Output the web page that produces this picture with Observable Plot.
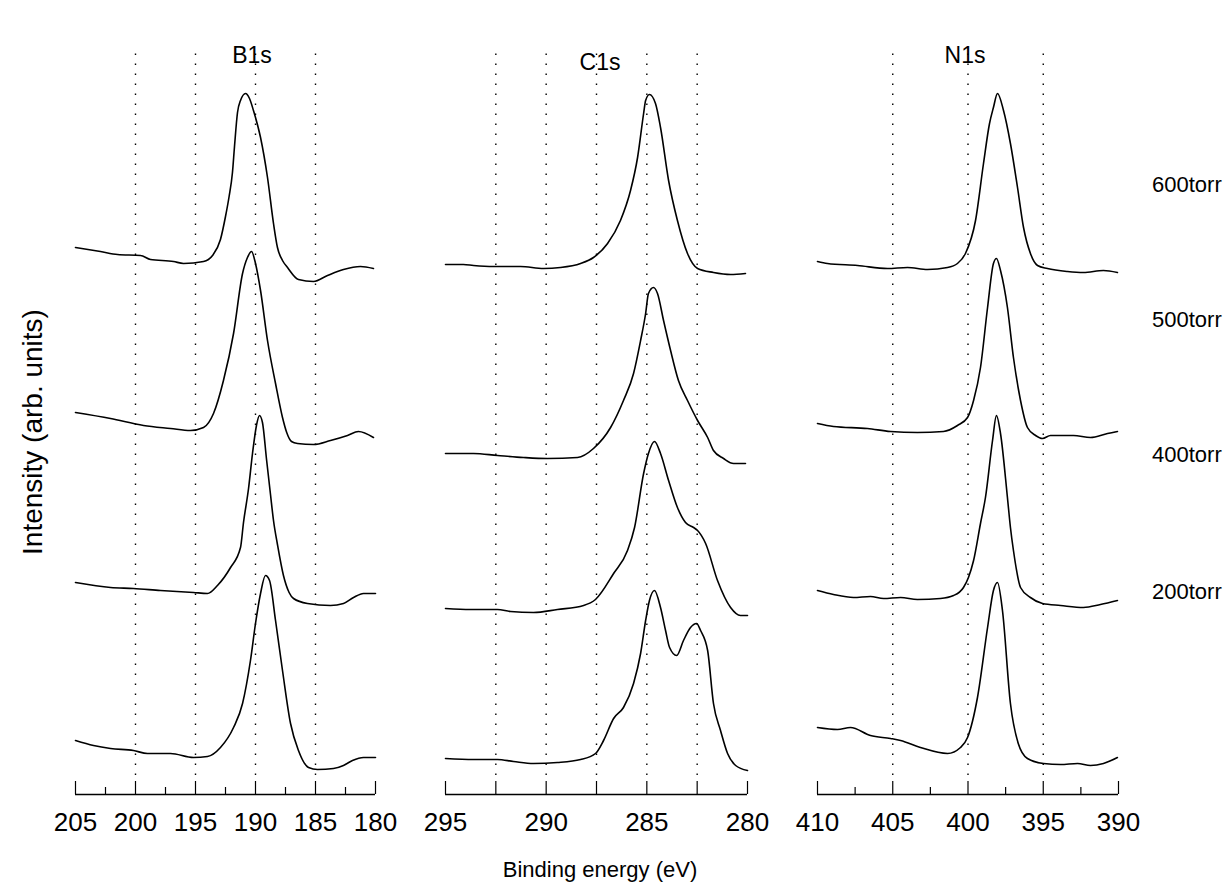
<!DOCTYPE html>
<html><head><meta charset="utf-8">
<script src="https://cdn.jsdelivr.net/npm/d3@7"></script>
<script src="https://cdn.jsdelivr.net/npm/@observablehq/plot@0.6"></script>
<style>
body{margin:0;background:#fff;}
#root{position:relative;width:1226px;height:889px;overflow:hidden;font-family:"Liberation Sans",Arial,Helvetica,sans-serif;color:#000;}
.panel{position:absolute;top:40px;}
.panel svg{overflow:visible;}
.lbl{position:absolute;font-size:22px;white-space:nowrap;line-height:1;}
.c{transform:translate(-50%,-50%);}
</style></head><body><div id="root"></div>
<script>
// ---------- data ----------
const pressures = ["600torr", "500torr", "400torr", "200torr"];
const panelTitles = ["B1s", "C1s", "N1s"];
const xTitle = "Binding energy (eV)";
const yTitle = "Intensity (arb. units)";

// B1s spectra: [binding energy (eV), intensity (arb.)]
const B1s_600 = [[205,547],[202.92,543],[201.5,540],[199.58,539],[198.75,535],[196.83,533],[196.0,531],[194.33,533],[193.58,539],[192.92,555],[192.5,578],[192.2,598],[191.92,622],[191.75,648],[191.5,682],[191.25,694],[190.83,701],[190.5,696],[190.17,684],[189.58,657],[189.0,617],[188.5,571],[188.17,547],[187.75,534],[187.33,527],[186.42,515],[185.17,513],[184.0,519],[182.67,525],[181.25,528],[180.17,526]];
const B1s_500 = [[205,382],[202.08,376],[199.33,369],[197.08,366],[195.42,364],[194.33,367],[193.5,381],[192.67,414],[191.83,461],[191.08,521],[190.67,537],[190.33,543],[190.0,531],[189.58,504],[189.0,454],[188.33,411],[187.75,377],[187.4,362],[187.0,353],[186.5,351],[185.17,350],[183.75,354],[182.33,359],[181.42,363],[180.17,357]];
const B1s_400 = [[205,212],[202.08,207],[200.17,206],[197.92,204],[195.17,202],[194.0,201],[193.17,209],[192.08,227],[191.25,247],[191.0,272],[190.58,306],[190.25,341],[189.92,369],[189.67,379],[189.42,372],[189.08,335],[188.75,300],[188.5,274],[188.17,250],[187.67,219],[187.2,202],[186.83,196],[185.67,191],[183.75,189],[182.67,191],[181.83,197],[181.0,201],[180.0,201]];
const B1s_200 = [[205,54],[203.5,49],[202.08,46],[200.17,44],[199.0,41],[197.08,41],[195.17,37],[194.0,38],[192.92,47],[191.83,67],[191.08,91],[190.42,134],[190.0,171],[189.58,201],[189.17,219],[188.83,214],[188.33,174],[187.75,124],[187.08,71],[186.42,44],[185.58,27],[184.83,25],[183.5,26],[182.67,29],[181.92,34],[181.0,37],[180.0,37]];

// C1s spectra
const C1s_600 = [[295,530],[294.11,530],[293.61,529],[292.62,528],[291.27,528],[290.13,526],[289.29,527],[288.29,531],[287.65,537],[286.95,551],[286.31,574],[285.81,604],[285.46,637],[285.16,681],[285.06,694],[284.87,700],[284.57,691],[284.32,667],[283.92,614],[283.48,574],[282.98,541],[282.48,526],[281.69,522],[280.84,520],[280.1,521]];
const C1s_500 = [[295,341],[293.61,341],[292.42,339],[291.13,337],[289.93,336],[288.44,337],[287.65,346],[286.8,367],[286.16,394],[285.66,421],[285.31,454],[285.06,481],[284.92,501],[284.67,507],[284.47,501],[284.17,474],[283.82,444],[283.43,414],[282.98,394],[282.48,374],[281.98,357],[281.69,344],[281.19,336],[280.69,331],[280.1,331]];
const C1s_400 = [[295,186],[293.76,185],[292.42,185],[291.77,183],[290.63,182],[289.44,185],[288.14,189],[287.55,195],[286.65,221],[285.96,244],[285.61,267],[285.16,321],[284.92,341],[284.62,353],[284.32,341],[283.92,314],[283.48,287],[283.08,272],[282.68,267],[282.48,264],[282.08,251],[281.49,214],[280.84,187],[280.35,179],[280.0,179]];
const C1s_200 = [[295,36],[293.61,35],[292.42,35],[291.62,33],[290.63,31],[289.44,32],[288.29,35],[287.55,41],[287.15,54],[286.65,76],[286.16,87],[285.66,111],[285.31,141],[285.06,174],[284.87,194],[284.62,204],[284.32,187],[284.07,164],[283.87,147],[283.52,139],[283.18,154],[282.83,167],[282.53,171],[282.33,164],[281.98,144],[281.69,91],[281.34,64],[280.99,41],[280.59,29],[280.0,24]];

// N1s spectra
const N1s_600 = [[410,533],[409.34,531],[407.34,529],[405.35,526],[404.02,527],[402.69,525],[401.36,527],[400.7,531],[400.17,541],[399.5,574],[398.97,631],[398.57,671],[398.31,687],[398.04,701],[397.64,684],[397.18,651],[396.71,607],[396.31,567],[395.85,541],[395.38,529],[394.72,526],[393.39,523],[392.33,522],[391.0,524],[390.07,522]];
const N1s_500 = [[410,371],[408.94,368],[406.68,366],[405.15,363],[403.36,362],[401.63,363],[400.7,369],[400.03,377],[399.63,394],[399.17,427],[398.7,487],[398.31,531],[398.11,536],[397.84,524],[397.38,487],[396.98,437],[396.51,394],[396.05,367],[395.51,359],[395.05,356],[394.52,359],[392.99,359],[391.86,357],[390.73,361],[390.07,363]];
const N1s_400 = [[410,204],[408.94,200],[407.61,197],[406.48,198],[405.61,196],[404.48,197],[403.36,195],[401.83,196],[400.96,199],[400.3,207],[399.97,217],[399.63,234],[399.17,271],[398.84,297],[398.37,354],[398.11,379],[397.84,361],[397.38,297],[397.18,267],[396.98,244],[396.51,207],[395.85,197],[395.05,191],[393.85,189],[392.33,187],[391.2,190],[390.07,194]];
const N1s_200 = [[410,67],[408.67,65],[407.81,67],[406.48,59],[405.15,56],[404.48,54],[403.16,47],[401.36,41],[400.5,47],[400.03,57],[399.37,97],[398.7,167],[398.31,204],[398.04,212],[397.71,184],[397.18,91],[396.66,51],[396.05,36],[394.98,31],[393.85,30],[392.72,31],[391.86,29],[391.0,31],[390.07,37]];

// axes
const B1s_domain = [205, 180];
const C1s_domain = [295, 280];
const N1s_domain = [410, 390];
const B1s_labels = [205, 200, 195, 190, 185, 180];
const C1s_labels = [295, 290, 285, 280];
const N1s_labels = [410, 405, 400, 395, 390];
const B1s_major = [205, 200, 195, 190, 185, 180];
const B1s_minor = [202.5, 197.5, 192.5, 187.5, 182.5];
const C1s_major = [295, 292.5, 290, 287.5, 285, 282.5, 280];
const C1s_minor = [];
const N1s_major = [410, 405, 400, 395, 390];
const N1s_minor = [407.5, 402.5, 397.5, 392.5];
const B1s_dotted = [200, 195, 190, 185];
const C1s_dotted = [292.5, 290, 287.5, 285, 282.5];
const N1s_dotted = [405, 400, 395];

// ---------- drawing ----------
const root = document.getElementById("root");
const FONT = '"Liberation Sans", Arial, Helvetica, sans-serif';

const panels = [
  {title: panelTitles[0], domain: B1s_domain, labels: B1s_labels, major: B1s_major, minor: B1s_minor, dotted: B1s_dotted, series: [B1s_600, B1s_500, B1s_400, B1s_200], left: 55, width: 340, tx: 252, ty: 55},
  {title: panelTitles[1], domain: C1s_domain, labels: C1s_labels, major: C1s_major, minor: C1s_minor, dotted: C1s_dotted, series: [C1s_600, C1s_500, C1s_400, C1s_200], left: 425, width: 342, tx: 600, ty: 62},
  {title: panelTitles[2], domain: N1s_domain, labels: N1s_labels, major: N1s_major, minor: N1s_minor, dotted: N1s_dotted, series: [N1s_600, N1s_500, N1s_400, N1s_200], left: 797, width: 341, tx: 965, ty: 55}
];

for (const cfg of panels) {
  const data = [];
  cfg.series.forEach((s, i) => s.forEach(([e, v]) => data.push({e, v, p: pressures[i]})));
  const chart = Plot.plot({
    width: cfg.width, height: 799,
    marginTop: 4, marginBottom: 45, marginLeft: 20, marginRight: 20,
    x: {domain: cfg.domain, axis: null},
    y: {domain: [0, 750], axis: null},
    style: {fontFamily: FONT, background: "transparent", overflow: "visible", color: "#000"},
    marks: [
      Plot.ruleX(cfg.dotted, {x: d => d, y1: 19, y2: 749, stroke: "#000", strokeWidth: 1.4, strokeDasharray: "1.6,8.4"}),
      Plot.ruleY([0], {x1: cfg.domain[0], x2: cfg.domain[1], stroke: "#000", strokeWidth: 1.3}),
      Plot.ruleX(cfg.major, {x: d => d, y1: 0, y2: 13, stroke: "#000", strokeWidth: 1.2}),
      Plot.ruleX(cfg.minor, {x: d => d, y1: 0, y2: 7, stroke: "#000", strokeWidth: 1.2}),
      Plot.text(cfg.labels, {x: d => d, y: 0, dy: 28, text: d => String(d), fontSize: 26, fill: "#000"}),
      Plot.line(data, {x: "e", y: "v", z: "p", stroke: "#000", strokeWidth: 1.6, curve: "monotone-x"})
    ]
  });
  const div = document.createElement("div");
  div.className = "panel";
  div.style.left = cfg.left + "px";
  div.appendChild(chart);
  root.appendChild(div);

  const t = document.createElement("div");
  t.className = "lbl c";
  t.style.left = cfg.tx + "px";
  t.style.top = cfg.ty + "px";
  t.style.fontSize = "23px";
  t.textContent = cfg.title;
  root.appendChild(t);
}

const sideY = [185, 320, 455, 592];
pressures.forEach((p, i) => {
  const d = document.createElement("div");
  d.className = "lbl";
  d.style.left = "1152px";
  d.style.top = sideY[i] + "px";
  d.style.transform = "translateY(-50%)";
  d.textContent = p;
  root.appendChild(d);
});

const xt = document.createElement("div");
xt.className = "lbl c";
xt.style.left = "600px"; xt.style.top = "870px";
xt.textContent = xTitle;
root.appendChild(xt);

const yt = document.createElement("div");
yt.className = "lbl";
yt.style.left = "33px"; yt.style.top = "432px";
yt.style.fontSize = "28px";
yt.style.transform = "translate(-50%,-50%) rotate(-90deg)";
yt.textContent = yTitle;
root.appendChild(yt);
</script></body></html>
